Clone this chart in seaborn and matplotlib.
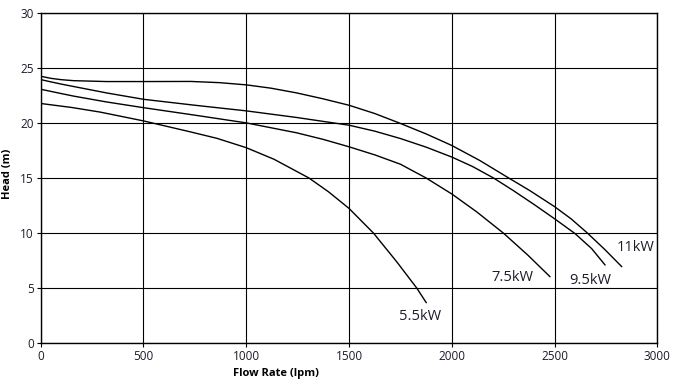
import matplotlib
matplotlib.use("Agg")
import matplotlib.pyplot as plt
import seaborn as sns
import pandas as pd

# Data
flow_11 = [0, 50, 100, 160, 320, 500, 730, 870, 1000, 1120, 1245, 1370, 1500, 1625, 1750,
           1875, 2000, 2135, 2268, 2380, 2500, 2580, 2657, 2745, 2827]
head_11 = [24.23, 24.04, 23.92, 23.83, 23.75, 23.75, 23.76, 23.65, 23.45, 23.15, 22.72, 22.2,
           21.6, 20.85, 19.95, 19.0, 17.95, 16.6, 15.1, 13.85, 12.4, 11.3, 10.05, 8.5, 6.95]

flow_95 = [0, 50, 100, 160, 320, 500, 750, 1000, 1245, 1500, 1625, 1750, 1875, 2000, 2100,
           2203, 2300, 2400, 2500, 2600, 2680, 2746]
head_95 = [23.93, 23.72, 23.52, 23.3, 22.72, 22.14, 21.6, 21.09, 20.49, 19.79, 19.25, 18.58,
           17.8, 16.9, 16.05, 15.0, 13.85, 12.6, 11.3, 9.95, 8.6, 7.1]

flow_75 = [0, 100, 160, 320, 500, 750, 1000, 1245, 1375, 1500, 1625, 1750, 1875, 2000, 2121,
           2251, 2370, 2478]
head_75 = [23.05, 22.66, 22.43, 21.9, 21.38, 20.7, 20.0, 19.1, 18.5, 17.83, 17.1, 16.25, 15.0,
           13.55, 11.93, 10.0, 8.0, 6.04]

flow_55 = [0, 150, 289, 500, 727, 857, 1000, 1135, 1305, 1400, 1500, 1619, 1732, 1830, 1876]
head_55 = [21.76, 21.4, 20.98, 20.18, 19.19, 18.6, 17.75, 16.7, 15.0, 13.75, 12.24, 10.0, 7.4,
           5.0, 3.68]

x_ticks = [0, 500, 1000, 1500, 2000, 2500, 3000]
y_ticks = [0, 5, 10, 15, 20, 25, 30]

series = {"11kW": (flow_11, head_11), "9.5kW": (flow_95, head_95),
          "7.5kW": (flow_75, head_75), "5.5kW": (flow_55, head_55)}
label_pos = {"5.5kW": (1846, 2.47), "7.5kW": (2293, 6.0), "9.5kW": (2673, 5.7), "11kW": (2892, 8.73)}

rows = []
for name, (fx, hy) in series.items():
    for a, b in zip(fx, hy):
        rows.append({"motor": name, "flow": a, "head": b})
df = pd.DataFrame(rows)

sns.set_theme(style="white")
plt.rcParams['font.family'] = ['Open Sans', 'DejaVu Sans']

fig = plt.figure(figsize=(6.92, 3.84), dpi=100)
ax = fig.add_axes([0.0588, 0.106, 0.8911, 0.861])

ax.set_xlim(0, 3000)
ax.set_ylim(0, 30)
ax.set_xticks(x_ticks)
ax.set_yticks(y_ticks)
ax.grid(True, color="black", linewidth=0.8)
ax.set_axisbelow(True)

sns.lineplot(data=df, x="flow", y="head", hue="motor", units="motor", estimator=None,
             sort=False, palette=["black"] * 4, legend=False, linewidth=1.0, ax=ax)

for name, (lx, ly) in label_pos.items():
    ax.text(lx, ly, name, ha="center", va="center", fontsize=10.5, color="#1c1c2a")

for s in ax.spines.values():
    s.set_color("black")
    s.set_linewidth(1.0)

ax.tick_params(axis="both", direction="out", length=3, width=0.8, color="black",
               labelsize=8.5, labelcolor="#1c1c2a", pad=2, left=True, bottom=True)

ax.set_xlabel("Flow Rate (lpm)", fontsize=8, fontweight="bold", color="black")
ax.set_ylabel("Head (m)", fontsize=8, fontweight="bold", color="black")
ax.xaxis.set_label_coords(0.382, -0.075)
ax.yaxis.set_label_coords(-0.045, 0.512)

fig.savefig("out.png", dpi=100)
